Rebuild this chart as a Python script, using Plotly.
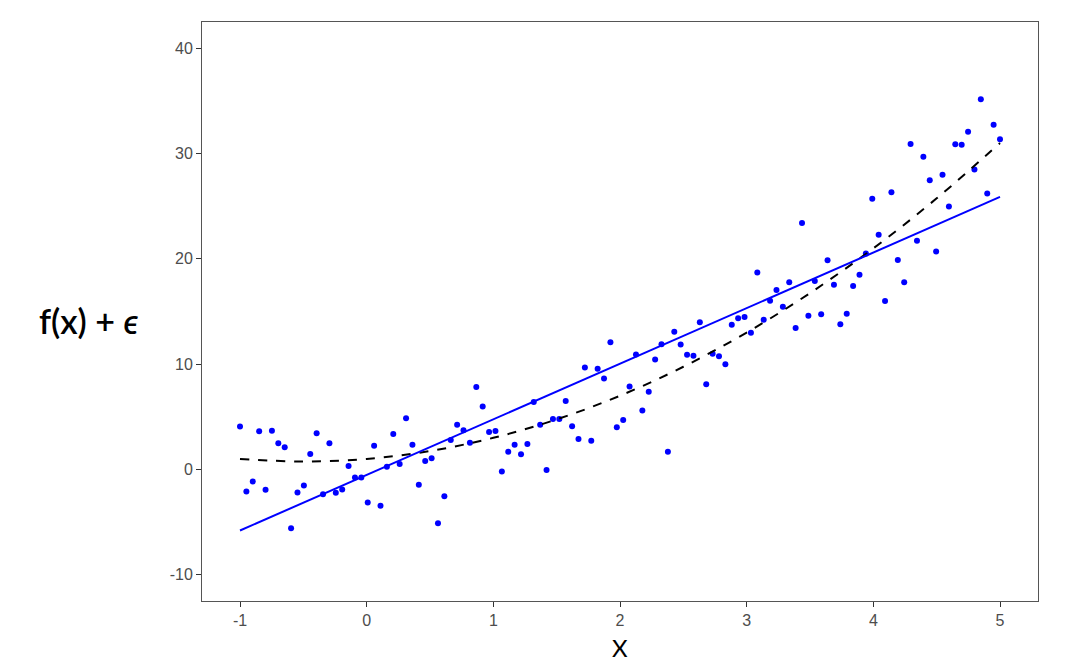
import numpy as np
import plotly.graph_objects as go

# observed points (x evenly spaced from -1 to 5)
x_obs = np.linspace(-1, 5, 120)
y_obs = [4.07, -2.1, -1.14, 3.62, -1.94, 3.68, 2.48, 2.1, -5.6, -2.2,
         -1.52, 1.46, 3.43, -2.35, 2.48, -2.22, -1.9, 0.32, -0.76, -0.76,
         -3.14, 2.25, -3.46, 0.25, 3.37, 0.51, 4.86, 2.35, -1.46, 0.79,
         1.05, -5.11, -2.54, 2.79, 4.25, 3.71, 2.54, 7.84, 5.97, 3.56,
         3.65, -0.19, 1.68, 2.35, 1.43, 2.41, 6.41, 4.25, -0.06, 4.79,
         4.79, 6.5, 4.1, 2.89, 9.68, 2.73, 9.56, 8.63, 12.07, 4.0,
         4.7, 7.87, 10.92, 5.59, 7.37, 10.44, 11.9, 1.68, 13.08, 11.87,
         10.89, 10.79, 13.97, 8.1, 10.98, 10.76, 10.0, 13.75, 14.35, 14.48,
         12.98, 18.7, 14.22, 16.03, 17.05, 15.46, 17.78, 13.43, 23.4, 14.6,
         17.9, 14.73, 19.87, 17.55, 13.78, 14.79, 17.43, 18.48, 20.5, 25.71,
         22.29, 16.0, 26.32, 19.9, 17.78, 30.92, 21.71, 29.71, 27.46, 20.7,
         28.0, 24.98, 30.89, 30.83, 32.07, 28.48, 35.17, 26.22, 32.73, 31.36]

# true function curve
x_true = [-1, -0.5, 0, 0.5, 1, 1.5, 2, 2.5, 3, 3.5, 4, 4.5, 5]
y_true = [1.0, 0.75, 1.0, 1.75, 3.0, 4.75, 7.0, 9.75, 13.0, 16.75, 21.0, 25.75, 31.0]

x_ticks = [-1, 0, 1, 2, 3, 4, 5]
y_ticks = [-10, 0, 10, 20, 30, 40]

# linear least-squares fit (geom_smooth lm)
slope, intercept = np.polyfit(x_obs, y_obs, 1)
x_fit = [min(x_obs), max(x_obs)]
y_fit = [intercept + slope * v for v in x_fit]

fig = go.Figure()
fig.add_trace(go.Scatter(x=x_obs, y=y_obs, mode="markers",
                         marker=dict(color="#0000ff", size=6), showlegend=False))
fig.add_trace(go.Scatter(x=x_true, y=y_true, mode="lines", line_shape="spline",
                         line=dict(color="black", width=2, dash="dash"), showlegend=False))
fig.add_trace(go.Scatter(x=x_fit, y=y_fit, mode="lines",
                         line=dict(color="#0000ff", width=2), showlegend=False))

axis_common = dict(showgrid=False, zeroline=False, showline=True, mirror=True,
                   linecolor="#555555", linewidth=1, ticks="outside", ticklen=5,
                   tickcolor="#333333", tickwidth=1,
                   tickfont=dict(family="Liberation Sans, Arial, sans-serif", size=16, color="#4d4d4d"))

fig.update_xaxes(range=[-1.3, 5.3], tickvals=x_ticks, ticktext=[str(v) for v in x_ticks],
                 **axis_common)
fig.update_yaxes(range=[-12.5, 42.5], tickvals=y_ticks, ticktext=[str(v) for v in y_ticks],
                 **axis_common)

fig.add_annotation(text="f(x) + <i>ϵ</i>", xref="paper", yref="paper", x=-0.1352, y=0.4853,
                   showarrow=False, xanchor="center", yanchor="middle",
                   font=dict(family="Lato, sans-serif", size=34, color="black", weight=600))
fig.add_annotation(text="X", xref="paper", yref="paper", x=0.5, y=-0.08,
                   showarrow=False, xanchor="center", yanchor="middle",
                   font=dict(family="Lato, sans-serif", size=24, color="black"))

fig.update_layout(width=1084, height=662, plot_bgcolor="white", paper_bgcolor="white",
                  margin=dict(l=194, r=54, t=14, b=69))

fig.write_html("out.html")
